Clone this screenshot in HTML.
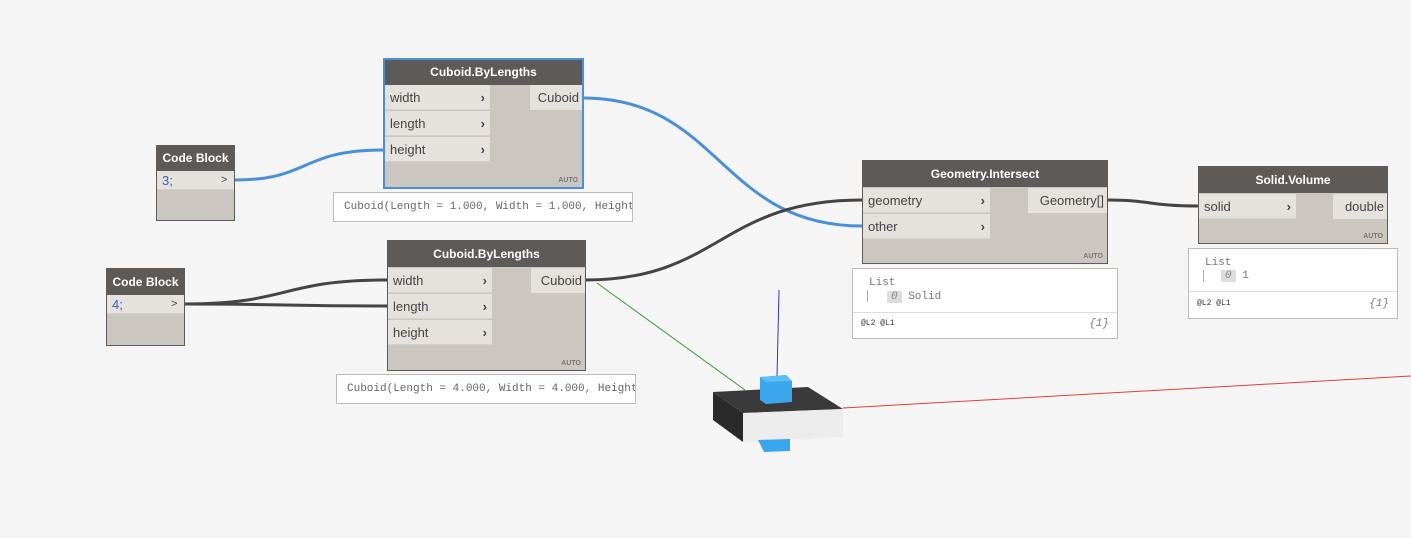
<!DOCTYPE html>
<html><head><meta charset="utf-8"><style>
body{margin:0;width:1411px;height:538px;background:#f5f5f5;position:relative;overflow:hidden;font-family:"Liberation Sans",sans-serif}
.n{position:absolute;background:#cbc6c0;border:1px solid #5e5a57;box-sizing:border-box}
.h{background:#5e5a57;color:#fff;font-weight:bold;font-size:12px;text-align:center;height:26px;line-height:26px}
.r{position:absolute;background:#e5e2dd;color:#444;font-size:13px;height:25px;line-height:25px;padding-left:5px;box-sizing:border-box;border-bottom:1px solid #d5d1cc}
.r b{position:absolute;right:5px;top:0;font-weight:bold;color:#444}
.o{position:absolute;background:#e5e2dd;color:#444;font-size:13px;height:25px;line-height:25px;text-align:right;padding-right:3px;box-sizing:border-box}
.auto{position:absolute;right:4px;bottom:3px;font-size:7px;font-weight:bold;color:#777}
.p{position:absolute;background:#fff;border:1px solid #bbb;box-sizing:border-box;font-family:"Liberation Mono",monospace;font-size:11px;color:#666;overflow:hidden;white-space:nowrap}
</style></head><body>
<svg width="1411" height="538" style="position:absolute;left:0;top:0">
<line x1="597" y1="283" x2="745" y2="390" stroke="#3a9a3a" stroke-width="1"/>
<line x1="779" y1="290" x2="777" y2="377" stroke="#3333cc" stroke-width="1"/>
<line x1="843" y1="408" x2="1411" y2="376" stroke="#e04040" stroke-width="1"/>
<polygon points="713,392 808,387 843,409 743,413" fill="#3a3a3a"/>
<polygon points="713,392 743,413 743,442 713,420" fill="#2a2a2a"/>
<polygon points="743,413 843,409 843,437 743,442" fill="#ececec"/>
<polygon points="760,377 786,375 792,381 792,402 766,404 760,400" fill="#3aa6ee"/>
<polygon points="760,377 786,375 792,381 766,382" fill="#60bcf5"/>
<polygon points="758,440 790,439 790,451 764,452" fill="#3aa6ee"/>
<path d="M235,180 C310,180 300,150 383,150" stroke="#4a90d9" stroke-width="3" fill="none"/>
<path d="M583,98 C720,98 720,226 862,226" stroke="#4a90d9" stroke-width="3" fill="none"/>
<path d="M185,304 C290,304 280,280 387,280" stroke="#444" stroke-width="3" fill="none"/>
<path d="M185,304 C290,304 280,306 387,306" stroke="#444" stroke-width="3" fill="none"/>
<path d="M585,280 C720,280 720,200 862,200" stroke="#444" stroke-width="3" fill="none"/>
<path d="M1108,200 C1150,200 1150,206 1198,206" stroke="#444" stroke-width="3" fill="none"/>
</svg>

<div class="n" style="left:383px;top:58px;width:201px;height:131px;border:2px solid #4a90d9"><div class="h" style="height:25px;line-height:25px">Cuboid.ByLengths</div>
<div class="r" style="left:0;top:25px;width:105px">width<b>›</b></div>
<div class="r" style="left:0;top:51px;width:105px">length<b>›</b></div>
<div class="r" style="left:0;top:77px;width:105px">height<b>›</b></div>
<div class="o" style="left:145px;top:25px;width:52px">Cuboid</div><div class="auto">AUTO</div></div>
<div class="p" style="left:333px;top:192px;width:300px;height:30px;line-height:28px;padding-left:10px">Cuboid(Length = 1.000, Width = 1.000, Height</div>

<div class="n" style="left:156px;top:145px;width:79px;height:76px"><div class="h" style="height:25px;line-height:25px">Code Block</div>
<div class="r" style="left:0;top:25px;width:59px;height:19px;line-height:19px;color:#2b63c4">3;</div>
<div class="r" style="left:59px;top:25px;width:18px;height:19px;line-height:19px;font-size:11px">&gt;</div></div>

<div class="n" style="left:387px;top:240px;width:199px;height:131px"><div class="h">Cuboid.ByLengths</div>
<div class="r" style="left:0;top:27px;width:104px">width<b>›</b></div>
<div class="r" style="left:0;top:53px;width:104px">length<b>›</b></div>
<div class="r" style="left:0;top:79px;width:104px">height<b>›</b></div>
<div class="o" style="left:143px;top:27px;width:54px">Cuboid</div><div class="auto">AUTO</div></div>
<div class="p" style="left:336px;top:374px;width:300px;height:30px;line-height:28px;padding-left:10px">Cuboid(Length = 4.000, Width = 4.000, Height</div>

<div class="n" style="left:106px;top:268px;width:79px;height:78px"><div class="h">Code Block</div>
<div class="r" style="left:0;top:26px;width:59px;height:19px;line-height:19px;color:#2b63c4">4;</div>
<div class="r" style="left:59px;top:26px;width:18px;height:19px;line-height:19px;font-size:11px">&gt;</div></div>

<div class="n" style="left:862px;top:160px;width:246px;height:104px"><div class="h">Geometry.Intersect</div>
<div class="r" style="left:0;top:27px;width:127px">geometry<b>›</b></div>
<div class="r" style="left:0;top:53px;width:127px">other<b>›</b></div>
<div class="o" style="left:165px;top:27px;width:79px">Geometry[]</div><div class="auto">AUTO</div></div>
<div class="p" style="left:852px;top:268px;width:266px;height:71px;color:#777">
<div style="position:absolute;left:16px;top:8px">List</div>
<div style="position:absolute;left:14px;top:21px;width:1px;height:12px;background:#aaa"></div>
<div style="position:absolute;left:34px;top:22px"><span style="background:#ddd;padding:0 4px;font-style:italic;color:#888">0</span> Solid</div>
<div style="position:absolute;left:0;top:43px;width:100%;border-top:1px solid #ddd"></div>
<div style="position:absolute;left:8px;top:50px;font-size:8px;color:#333">@L2 @L1</div>
<div style="position:absolute;right:8px;top:49px;font-style:italic">{1}</div></div>

<div class="n" style="left:1198px;top:166px;width:190px;height:78px"><div class="h">Solid.Volume</div>
<div class="r" style="left:0;top:27px;width:97px">solid<b>›</b></div>
<div class="o" style="left:134px;top:27px;width:54px">double</div><div class="auto">AUTO</div></div>
<div class="p" style="left:1188px;top:248px;width:210px;height:71px;color:#777">
<div style="position:absolute;left:16px;top:8px">List</div>
<div style="position:absolute;left:14px;top:21px;width:1px;height:12px;background:#aaa"></div>
<div style="position:absolute;left:32px;top:21px"><span style="background:#ddd;padding:0 4px;font-style:italic;color:#888">0</span> 1</div>
<div style="position:absolute;left:0;top:42px;width:100%;border-top:1px solid #ddd"></div>
<div style="position:absolute;left:8px;top:50px;font-size:8px;color:#333">@L2 @L1</div>
<div style="position:absolute;right:8px;top:49px;font-style:italic">{1}</div></div>
</body></html>
